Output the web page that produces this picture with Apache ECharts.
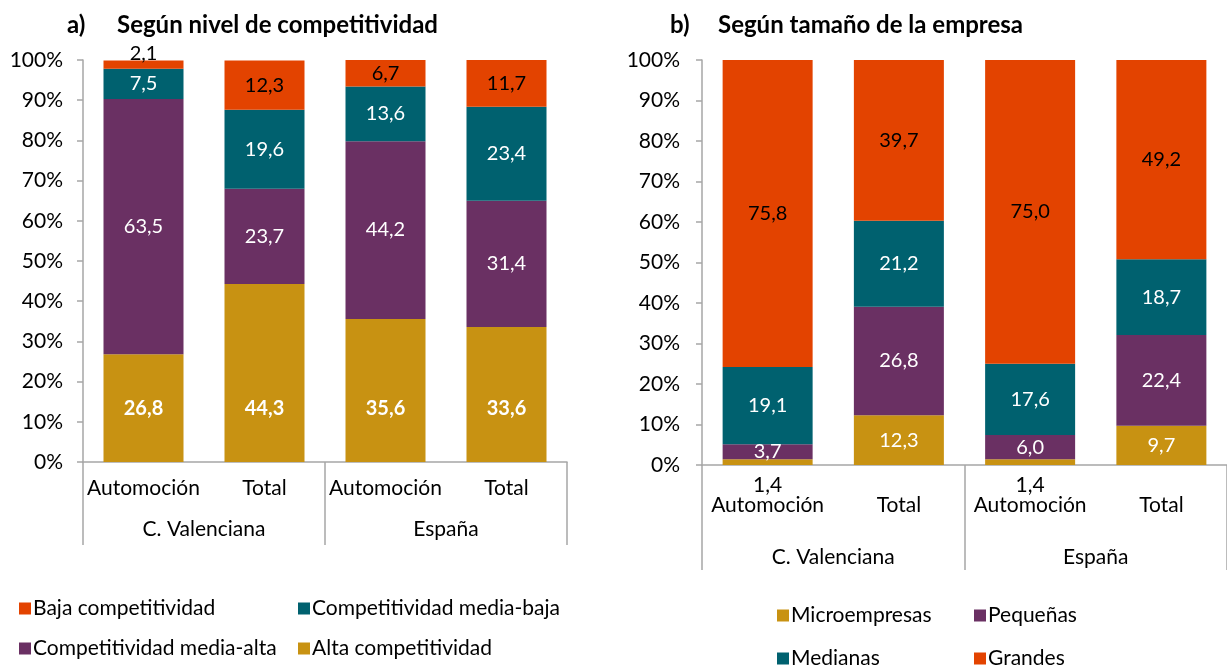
<!DOCTYPE html>
<html>
<head>
<meta charset="utf-8">
<script src="https://cdn.jsdelivr.net/npm/echarts@6/dist/echarts.min.js"></script>
<style>
  html, body { margin: 0; padding: 0; background: #fff; }
  #chart { width: 1227px; height: 666px; }
</style>
</head>
<body>
<div id="chart"></div>
<script>
// categorias comunes
const categorias = ['Automoción', 'Total', 'Automoción', 'Total'];
const grupos = ['C. Valenciana', 'España'];

// a) Según nivel de competitividad (de abajo a arriba)
const altaComp = [26.8, 44.3, 35.6, 33.6];
const mediaAlta = [63.5, 23.7, 44.2, 31.4];
const mediaBaja = [7.5, 19.6, 13.6, 23.4];
const bajaComp = [2.1, 12.3, 6.7, 11.7];

// b) Según tamaño de la empresa (de abajo a arriba)
const micro = [1.4, 12.3, 1.4, 9.7];
const pequenas = [3.7, 26.8, 6.0, 22.4];
const medianas = [19.1, 21.2, 17.6, 18.7];
const grandes = [75.8, 39.7, 75.0, 49.2];

const C_NARANJA = '#E34300';
const C_VERDE = '#00616F';
const C_MORADO = '#6A3063';
const C_ORO = '#C89212';
const FUENTE = 'Lato, "Open Sans", sans-serif';
const GRIS = '#A6A6A6';
const TAM = 21;

const fmt = p => p.value.toFixed(1).replace('.', ',');

function ejes(idx, margenCat, margenGrupo, largoTick) {
  return [
    {
      type: 'category', gridIndex: idx, data: categorias,
      axisLine: { lineStyle: { color: GRIS, width: 1.5 } },
      axisTick: { show: false },
      axisLabel: { interval: 0, color: '#000', fontSize: TAM, fontFamily: FUENTE, margin: margenCat }
    },
    {
      type: 'category', gridIndex: idx, data: grupos, position: 'bottom',
      axisLine: { show: false },
      axisTick: { show: true, length: largoTick, interval: 0, lineStyle: { color: GRIS, width: 1.5 } },
      axisLabel: { interval: 0, color: '#000', fontSize: TAM, fontFamily: FUENTE, margin: margenGrupo }
    }
  ];
}

function ejeY(idx, margen) {
  return {
    type: 'value', gridIndex: idx, min: 0, max: 100, interval: 10,
    axisLine: { show: true, lineStyle: { color: GRIS, width: 1.5 } },
    axisTick: { show: true, length: 6, lineStyle: { color: GRIS, width: 1.5 } },
    splitLine: { show: false },
    axisLabel: { color: '#000', fontSize: TAM, fontFamily: FUENTE, margin: margen, formatter: '{value}%' }
  };
}

function serie(nombre, valores, color, colorTexto, idx, ancho, extra) {
  return {
    name: nombre, type: 'bar', stack: 'total' + idx,
    xAxisIndex: idx * 2, yAxisIndex: idx,
    barWidth: ancho,
    itemStyle: { color: color },
    label: Object.assign({
      show: true, position: 'inside', color: colorTexto,
      fontSize: 20, fontFamily: FUENTE, formatter: fmt
    }, extra || {}),
    data: valores.slice()
  };
}

const sAlta = serie('Alta competitividad', altaComp, C_ORO, '#fff', 0, 80,
  { position: 'insideBottom', distance: 43, fontWeight: 'bold' });
const sMediaAlta = serie('Competitividad media-alta', mediaAlta, C_MORADO, '#fff', 0, 80);
const sMediaBaja = serie('Competitividad media-baja', mediaBaja, C_VERDE, '#fff', 0, 80);
const sBaja = serie('Baja competitividad', bajaComp, C_NARANJA, '#000', 0, 80);
// etiqueta pequeña desplazada hacia arriba
sBaja.data = bajaComp.map(v => v < 5 ? { value: v, label: { offset: [0, -11] } } : v);

const sMicro = serie('Microempresas', micro, C_ORO, '#fff', 1, 90);
// valores muy pequeños: etiqueta debajo del eje
sMicro.data = micro.map(v => v < 2 ? { value: v, label: { position: 'bottom', distance: 10, color: '#000', fontSize: TAM } } : v);
const sPeq = serie('Pequeñas', pequenas, C_MORADO, '#fff', 1, 90);
const sMed = serie('Medianas', medianas, C_VERDE, '#fff', 1, 90);
const sGra = serie('Grandes', grandes, C_NARANJA, '#000', 1, 90);

// una leyenda por elemento para colocarlas en rejilla
const leyenda = (nombre, left, top) => ({
  data: [nombre], left: left, top: top, padding: 0,
  icon: 'rect', itemWidth: 12, itemHeight: 12, itemGap: 0, selectedMode: false,
  textStyle: { color: '#000', fontSize: TAM, fontFamily: FUENTE, padding: [0, 0, 0, -3] }
});

const titulo = (texto, left) => ({
  text: texto, left: left, top: 13, padding: 0,
  textStyle: { color: '#000', fontSize: 24, fontWeight: 'bold', fontFamily: FUENTE }
});

const chart = echarts.init(document.getElementById('chart'));
chart.setOption({
  animation: false,
  title: [
    titulo('a)', 67), titulo('Según nivel de competitividad', 117),
    titulo('b)', 670), titulo('Según tamaño de la empresa', 718)
  ],
  legend: [
    leyenda('Baja competitividad', 19, 598),
    leyenda('Competitividad media-alta', 19, 638),
    leyenda('Competitividad media-baja', 298, 598),
    leyenda('Alta competitividad', 298, 638),
    leyenda('Microempresas', 777, 605),
    leyenda('Medianas', 777, 648),
    leyenda('Pequeñas', 974, 605),
    leyenda('Grandes', 974, 648)
  ],
  grid: [
    { left: 83, top: 60, width: 484, height: 402 },
    { left: 702, top: 60, width: 540, height: 405 }
  ],
  xAxis: [].concat(ejes(0, 16, 57, 83), ejes(1, 30, 82, 105)),
  yAxis: [ejeY(0, 20), ejeY(1, 22)],
  series: [sAlta, sMediaAlta, sMediaBaja, sBaja, sMicro, sPeq, sMed, sGra]
});

window.onresize = function () { chart.resize(); };
</script>
</body>
</html>
